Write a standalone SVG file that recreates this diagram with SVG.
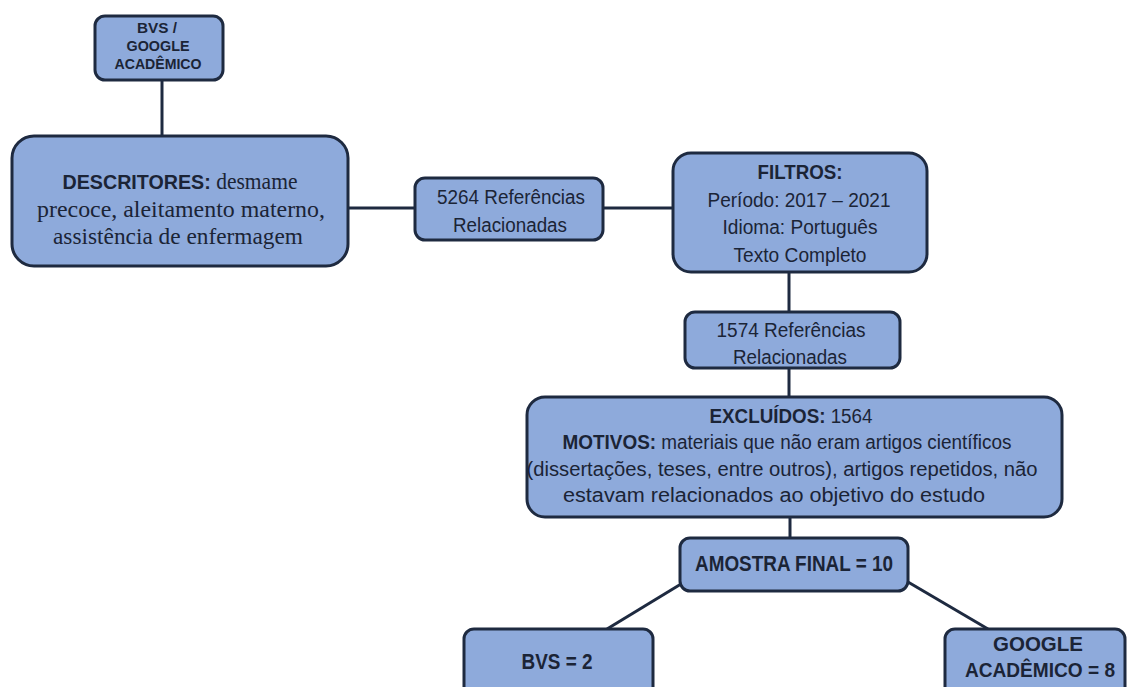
<svg xmlns="http://www.w3.org/2000/svg" width="1127" height="687" viewBox="0 0 1127 687">
<style>
.box{fill:#8eaadb;stroke:#1e2a40;stroke-width:3}
.t{font-family:"Liberation Sans",Arial,sans-serif;fill:#1b2436;text-anchor:middle;font-size:19.5px}
.b{font-weight:bold}
.s{font-family:"Liberation Serif","Times New Roman",serif;font-weight:normal;font-size:23px}
.conn line{stroke:#1e2a40;stroke-width:3}
</style>
<rect width="1127" height="687" fill="#ffffff"/>
<g class="conn">
<line x1="162" y1="80" x2="162" y2="137"/>
<line x1="348" y1="208" x2="415" y2="208"/>
<line x1="603" y1="208" x2="673" y2="208"/>
<line x1="789" y1="272" x2="789" y2="312"/>
<line x1="789" y1="368" x2="789" y2="397"/>
<line x1="790" y1="517" x2="790" y2="538"/>
<line x1="681" y1="584" x2="607" y2="629"/>
<line x1="908" y1="582" x2="988" y2="629"/>
</g>
<g id="n-bvs-google">
<rect class="box" x="95" y="16" width="128" height="64" rx="10"/>
<text class="t b" x="157" y="33" style="font-size:15px" textLength="40" lengthAdjust="spacingAndGlyphs">BVS /</text>
<text class="t b" x="158" y="51" style="font-size:15px" textLength="63" lengthAdjust="spacingAndGlyphs">GOOGLE</text>
<text class="t b" x="158" y="69" style="font-size:15px" textLength="87" lengthAdjust="spacingAndGlyphs">ACADÊMICO</text>
</g>
<g id="n-descritores">
<rect class="box" x="12" y="136" width="336" height="130" rx="22"/>
<text class="t" x="180" y="189" textLength="235" lengthAdjust="spacingAndGlyphs"><tspan class="b" style="font-size:21px">DESCRITORES:</tspan><tspan class="s"> desmame</tspan></text>
<text class="t s" x="181" y="217" textLength="288" lengthAdjust="spacingAndGlyphs">precoce, aleitamento materno,</text>
<text class="t s" x="178" y="244" textLength="250" lengthAdjust="spacingAndGlyphs">assistência de enfermagem</text>
</g>
<g id="n-5264">
<rect class="box" x="415" y="178" width="188" height="62" rx="10"/>
<text class="t" x="511" y="204" textLength="148" lengthAdjust="spacingAndGlyphs">5264 Referências</text>
<text class="t" x="510" y="232" textLength="114" lengthAdjust="spacingAndGlyphs">Relacionadas</text>
</g>
<g id="n-filtros">
<rect class="box" x="673" y="153" width="254" height="119" rx="18"/>
<text class="t b" x="800" y="179" style="font-size:20.5px" textLength="85" lengthAdjust="spacingAndGlyphs">FILTROS:</text>
<text class="t" x="799" y="207" textLength="183" lengthAdjust="spacingAndGlyphs">Período: 2017 – 2021</text>
<text class="t" x="800" y="234" textLength="155" lengthAdjust="spacingAndGlyphs">Idioma: Português</text>
<text class="t" x="800" y="262" textLength="133" lengthAdjust="spacingAndGlyphs">Texto Completo</text>
</g>
<g id="n-1574">
<rect class="box" x="685" y="312" width="215" height="56" rx="10"/>
<text class="t" x="791" y="337" textLength="149" lengthAdjust="spacingAndGlyphs">1574 Referências</text>
<text class="t" x="790" y="364" textLength="114" lengthAdjust="spacingAndGlyphs">Relacionadas</text>
</g>
<g id="n-excluidos">
<rect class="box" x="527" y="397" width="535" height="120" rx="18"/>
<text class="t" x="791" y="423" textLength="163" lengthAdjust="spacingAndGlyphs"><tspan class="b">EXCLUÍDOS:</tspan> 1564</text>
<text class="t" x="787" y="449" textLength="449" lengthAdjust="spacingAndGlyphs"><tspan class="b">MOTIVOS:</tspan> materiais que não eram artigos científicos</text>
<text class="t" x="782" y="476" textLength="511" lengthAdjust="spacingAndGlyphs">(dissertações, teses, entre outros), artigos repetidos,  não</text>
<text class="t" x="774" y="502" textLength="422" lengthAdjust="spacingAndGlyphs">estavam relacionados ao objetivo do estudo</text>
</g>
<g id="n-amostra">
<rect class="box" x="680" y="538" width="228" height="53" rx="10"/>
<text class="t b" x="794" y="571" style="font-size:21.5px" textLength="198" lengthAdjust="spacingAndGlyphs">AMOSTRA FINAL = 10</text>
</g>
<g id="n-bvs2">
<rect class="box" x="464" y="629" width="189" height="70" rx="10"/>
<text class="t b" x="557" y="669" style="font-size:21.5px" textLength="71" lengthAdjust="spacingAndGlyphs">BVS = 2</text>
</g>
<g id="n-google8">
<rect class="box" x="945" y="629" width="180" height="70" rx="10"/>
<text class="t b" x="1038" y="651" style="font-size:20px" textLength="90" lengthAdjust="spacingAndGlyphs">GOOGLE</text>
<text class="t b" x="1040" y="677" style="font-size:20px" textLength="150" lengthAdjust="spacingAndGlyphs">ACADÊMICO = 8</text>
</g>
</svg>
